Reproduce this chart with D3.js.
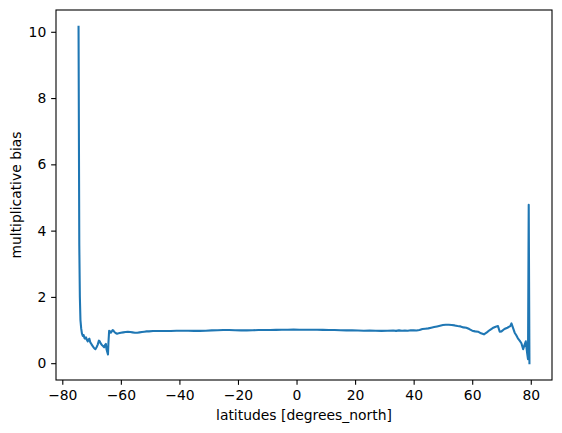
<!DOCTYPE html>
<html>
<head>
<meta charset="utf-8">
<script src="https://cdn.jsdelivr.net/npm/d3@7"></script>
<style>
  html, body { margin: 0; padding: 0; background: #fff; }
  svg { display: block; }
  text { font-family: "DejaVu Sans", sans-serif; }
</style>
</head>
<body>
<svg id="chart" width="562" height="433"></svg>
<script>
// Latitudes [degrees_north]
const lats = [
  -74.45, -74.2, -74.0, -73.8, -73.55, -73.3, -73.0, -72.7, -72.45, -72.2,
  -71.9, -71.6, -71.3, -71.0, -70.75, -70.45, -70.2, -69.9, -69.5, -69.1,
  -68.7, -68.3, -67.9, -67.5, -67.2, -66.9, -66.5, -66.1, -65.7, -65.4,
  -65.1, -64.9, -64.6, -64.4, -64.25, -64.0, -63.7, -63.4, -63.1, -62.8,
  -62.5, -62.2, -61.8, -61.3, -60.8, -60.0, -59.2, -58.4, -57.6, -56.8,
  -56.0, -55.2, -54.4, -53.6, -52.8, -52.0, -51.2, -50.4,
  -49, -47, -45, -43, -41, -39, -37, -35, -33, -31, -29, -27, -25, -23, -21,
  -19, -17, -15, -13, -11, -9, -7, -5, -3, -1, 1, 3, 5, 7, 9, 11, 13, 15,
  17, 19, 21, 23, 25, 27, 29, 31, 33, 34, 35, 36, 37, 38, 39, 40, 41, 42,
  43, 44, 45, 46, 47, 48, 49, 50, 51, 52, 53, 54, 55, 56, 57, 58, 59, 60,
  61, 62, 63, 64, 65, 66, 67, 68, 68.8, 69.4, 70, 71, 72, 73, 73.4, 74,
  74.5, 75, 75.6, 76.2, 76.8, 77.4, 77.9, 78.3, 78.75, 79.05, 79.3, 79.55
];
// Multiplicative bias
const bias = [
  10.15, 3.6, 2.0, 1.3, 1.05, 0.9, 0.82, 0.85, 0.76, 0.74,
  0.78, 0.7, 0.66, 0.72, 0.74, 0.63, 0.60, 0.55, 0.50, 0.45,
  0.42, 0.48, 0.56, 0.68, 0.66, 0.60, 0.55, 0.52, 0.48, 0.55,
  0.58, 0.42, 0.32, 0.26, 0.60, 0.98, 0.96, 0.92, 0.96, 1.0,
  0.98, 0.94, 0.91, 0.89, 0.90, 0.92, 0.93, 0.94, 0.95, 0.94,
  0.93, 0.92, 0.92, 0.93, 0.94, 0.95, 0.96, 0.96,
  0.97, 0.97, 0.97, 0.97, 0.98, 0.98, 0.98, 0.975, 0.975, 0.98, 0.99, 0.995, 1.0, 1.0, 0.995,
  0.99, 0.99, 0.995, 1.0, 1.0, 1.0, 1.005, 1.01, 1.01, 1.015, 1.01, 1.01, 1.01, 1.01, 1.005, 1.0, 1.0, 0.995,
  0.99, 0.99, 0.985, 0.98, 0.985, 0.98, 0.975, 0.98, 0.985, 0.975, 0.99, 0.98, 0.985, 0.98, 0.995, 0.99, 0.985, 1.0,
  1.03, 1.04, 1.05, 1.07, 1.09, 1.11, 1.13, 1.15, 1.16, 1.16, 1.15, 1.14, 1.12, 1.11, 1.08, 1.07, 1.03, 0.98,
  0.96, 0.95, 0.90, 0.87, 0.93, 1.0, 1.06, 1.1, 1.12, 0.95, 0.96, 1.03, 1.07, 1.12, 1.2, 1.05,
  0.92, 0.85, 0.75, 0.68, 0.60, 0.42, 0.56, 0.66, 0.31, 0.12, 4.78, 0.0
];
const xTicks = [-80, -60, -40, -20, 0, 20, 40, 60, 80];
const yTicks = [0, 2, 4, 6, 8, 10];
const xLabel = "latitudes [degrees_north]";
const yLabel = "multiplicative bias";

const W = 562, H = 433;
const m = { left: 56, right: 10, top: 10, bottom: 53 };
const pw = W - m.left - m.right, ph = H - m.top - m.bottom;

const svg = d3.select("#chart");
const g = svg.append("g").attr("transform", `translate(${m.left},${m.top})`);

const xmin = d3.min(lats), xmax = d3.max(lats);
const ymin = d3.min(bias), ymax = d3.max(bias);
const xpad = (xmax - xmin) * 0.05, ypad = (ymax - ymin) * 0.05;

const x = d3.scaleLinear().domain([xmin - xpad, xmax + xpad]).range([0, pw]);
const y = d3.scaleLinear().domain([ymin - ypad, ymax + ypad]).range([ph, 0]);

const fmt = d => d < 0 ? "\u2212" + Math.abs(d) : String(d);
const tickLen = 4.86, tickPad = 4.86;

const data = lats.map((d, i) => [d, bias[i]]);

g.append("path")
  .datum(data)
  .attr("fill", "none")
  .attr("stroke", "#1f77b4")
  .attr("stroke-width", 2.08)
  .attr("stroke-linejoin", "round")
  .attr("stroke-linecap", "square")
  .attr("d", d3.line().x(d => x(d[0])).y(d => y(d[1])));

const xAxis = g.append("g")
  .attr("transform", `translate(0,${ph})`)
  .call(d3.axisBottom(x).tickValues(xTicks).tickFormat(fmt).tickSize(tickLen).tickPadding(tickPad));
const yAxis = g.append("g")
  .call(d3.axisLeft(y).tickValues(yTicks).tickFormat(fmt).tickSize(tickLen).tickPadding(tickPad));

[xAxis, yAxis].forEach(a => {
  a.select(".domain").remove();
  a.selectAll(".tick line").attr("stroke", "#000").attr("stroke-width", 1.1);
  a.selectAll(".tick text").attr("fill", "#000").style("font-size", "13.9px").style("font-family", "DejaVu Sans");
});

g.append("rect")
  .attr("x", 0).attr("y", 0).attr("width", pw).attr("height", ph)
  .attr("fill", "none").attr("stroke", "#000").attr("stroke-width", 1.1);

svg.append("text")
  .attr("x", m.left + pw / 2)
  .attr("y", m.top + ph + 40)
  .attr("text-anchor", "middle")
  .style("font-size", "13.9px")
  .attr("fill", "#000")
  .text(xLabel);

svg.append("text")
  .attr("transform", `translate(21,${m.top + ph / 2}) rotate(-90)`)
  .attr("text-anchor", "middle")
  .style("font-size", "13.9px")
  .attr("fill", "#000")
  .text(yLabel);
</script>
</body>
</html>
